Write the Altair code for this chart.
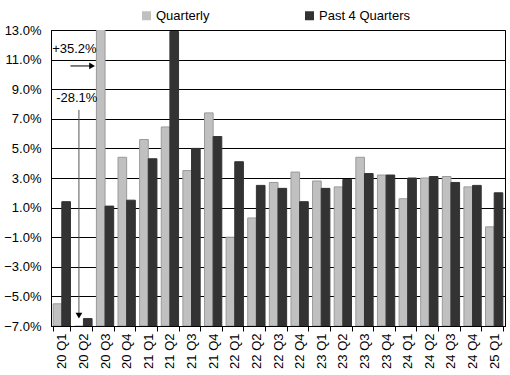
import altair as alt
import pandas as pd

quarters = ["20 Q1", "20 Q2", "20 Q3", "20 Q4",
            "21 Q1", "21 Q2", "21 Q3", "21 Q4",
            "22 Q1", "22 Q2", "22 Q3", "22 Q4",
            "23 Q1", "23 Q2", "23 Q3", "23 Q4",
            "24 Q1", "24 Q2", "24 Q3", "24 Q4",
            "25 Q1"]
quarterly = [-5.5, -28.1, 35.2, 4.4,
             5.6, 6.45, 3.5, 7.4,
             -1.0, 0.3, 2.7, 3.4,
             2.8, 2.4, 4.4, 3.2,
             1.6, 3.0, 3.1, 2.4,
             -0.3]
past4 = [1.4, -6.5, 1.1, 1.5,
         4.3, 12.9, 5.0, 5.8,
         4.1, 2.5, 2.3, 1.4,
         2.3, 2.9, 3.3, 3.2,
         3.0, 3.1, 2.7, 2.5,
         2.0]
series = ["Quarterly", "Past 4 Quarters"]
fill_colors = ["#c0c0c0", "#333333"]
stroke_colors = ["#9a9a9a", "#333333"]
y_ticks = [-7, -5, -3, -1, 1, 3, 5, 7, 9, 11, 13]
y_min, y_max = -7, 13

rows = []
for q, a, b in zip(quarters, quarterly, past4):
    rows.append({"q": q, "s": series[0], "v": a, "base": y_min})
    rows.append({"q": q, "s": series[1], "v": b, "base": y_min})
df = pd.DataFrame(rows)

FONT = "Liberation Sans"
FS = 13

xscale = alt.Scale(domain=quarters, paddingInner=0.2, paddingOuter=0.1)
yscale = alt.Scale(domain=[y_min, y_max], nice=False, zero=False)

bars = alt.Chart(df).mark_bar(clip=True, strokeWidth=1).encode(
    x=alt.X("q:N", sort=quarters, scale=xscale, title=None,
            axis=alt.Axis(labelAngle=-90, labelAlign="right", labelBaseline="middle",
                          tickBand="extent", ticks=True, tickSize=5, tickColor="black",
                          domainColor="black", labelPadding=2, labelFontSize=FS,
                          labelColor="black", labelFont=FONT, grid=False,
                          labelOverlap=False)),
    xOffset=alt.XOffset("s:N", sort=series, scale=alt.Scale(domain=series, paddingInner=0, paddingOuter=0)),
    y=alt.Y("v:Q", scale=yscale, title=None,
            axis=alt.Axis(values=y_ticks, tickCount=len(y_ticks),
                          labelExpr="format(datum.value, '.1f') + '%'",
                          grid=True, gridColor="black", gridOpacity=1, gridWidth=1,
                          ticks=False, domainColor="black", labelPadding=10,
                          labelFontSize=FS, labelColor="black", labelFont=FONT,
                          labelOverlap=False)),
    y2="base:Q",
    color=alt.Color("s:N", sort=series,
                    scale=alt.Scale(domain=series, range=fill_colors),
                    legend=alt.Legend(title=None, orient="none", direction="horizontal",
                                      legendX=89, legendY=-21, symbolType="square",
                                      symbolSize=81, labelFontSize=FS, labelFont=FONT,
                                      labelColor="black", columnPadding=93,
                                      symbolStrokeWidth=0, labelOffset=3, padding=0)),
    stroke=alt.Stroke("s:N", sort=series,
                      scale=alt.Scale(domain=series, range=stroke_colors), legend=None),
)

ann_text = pd.DataFrame({"q": ["20 Q1", "20 Q1"], "v": [11.7, 8.4],
                         "t": ["+35.2%", "-28.1%"]})
texts1 = alt.Chart(ann_text.iloc[[0]]).mark_text(align="left", baseline="middle", fontSize=FS,
                                                 font=FONT, color="black", dx=-1).encode(
    x=alt.X("q:N", sort=quarters, scale=xscale, bandPosition=0, title=None),
    y=alt.Y("v:Q", scale=yscale, title=None),
    text="t:N",
)
texts2 = alt.Chart(ann_text.iloc[[1]]).mark_text(align="left", baseline="middle", fontSize=FS,
                                                 font=FONT, color="black", dx=3).encode(
    x=alt.X("q:N", sort=quarters, scale=xscale, bandPosition=0, title=None),
    y=alt.Y("v:Q", scale=yscale, title=None),
    text="t:N",
)

# right arrow (for +35.2%)
arr1 = pd.DataFrame({"q": ["20 Q1"], "q2": ["20 Q2"], "v": [10.57]})
rule1 = alt.Chart(arr1).mark_rule(color="black", strokeWidth=1).encode(
    x=alt.X("q:N", sort=quarters, scale=xscale, bandPosition=1, title=None),
    x2=alt.X2("q2:N", bandPosition=0.95),
    y=alt.Y("v:Q", scale=yscale, title=None),
)
head1 = alt.Chart(arr1).mark_point(shape="triangle-right", filled=True, color="black",
                                   size=45, opacity=1).encode(
    x=alt.X("q2:N", sort=quarters, scale=xscale, bandPosition=1, title=None),
    y=alt.Y("v:Q", scale=yscale, title=None),
)

# down arrow (for -28.1%)
arr2 = pd.DataFrame({"q": ["20 Q2"], "v": [7.6], "v2": [-6.3]})
rule2 = alt.Chart(arr2).mark_rule(color="#555555", strokeWidth=1).encode(
    x=alt.X("q:N", sort=quarters, scale=xscale, bandPosition=0.24, title=None),
    y=alt.Y("v:Q", scale=yscale, title=None),
    y2="v2:Q",
)
head2 = alt.Chart(arr2).mark_point(shape="triangle-down", filled=True, color="black",
                                   size=45, opacity=1).encode(
    x=alt.X("q:N", sort=quarters, scale=xscale, bandPosition=0.24, title=None),
    y=alt.Y("v2:Q", scale=yscale, title=None),
)

chart = alt.layer(bars, texts1, texts2, rule1, head1, rule2, head2).properties(
    width=454, height=296,
    padding={"left": 51, "top": 30, "right": 5, "bottom": 49},
    autosize="none",
    background="white",
).configure_view(stroke="black", strokeWidth=1)

chart.save("out.html", embed_options={"renderer": "svg", "actions": False})
